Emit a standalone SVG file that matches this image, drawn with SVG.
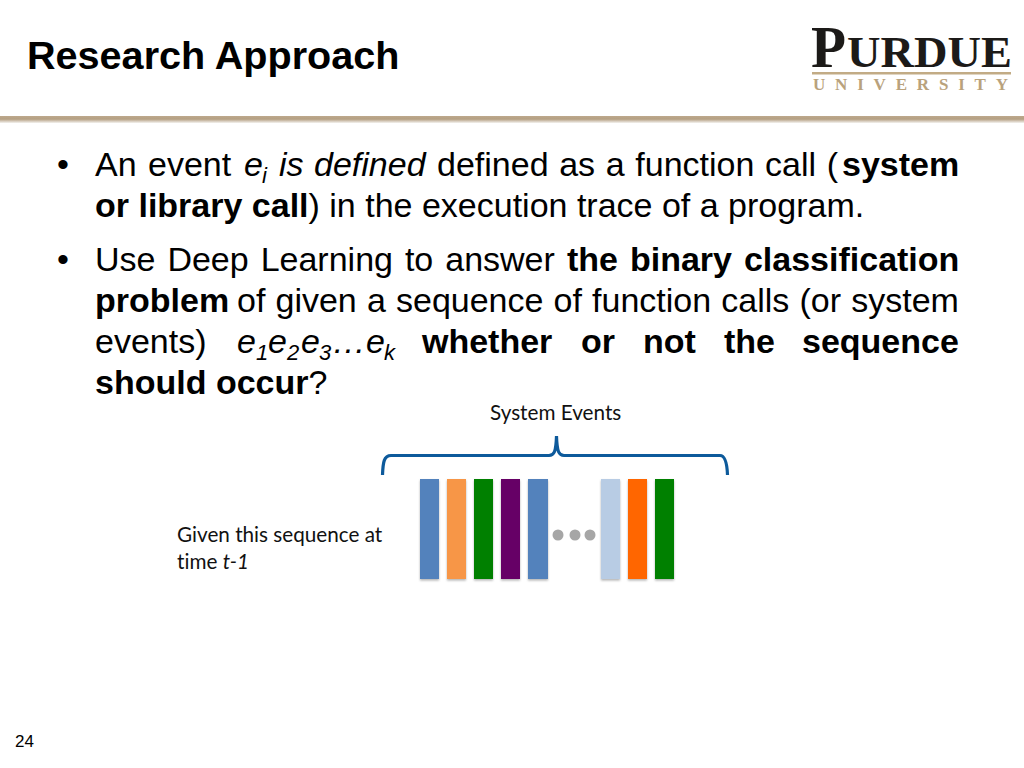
<svg xmlns="http://www.w3.org/2000/svg" width="1024" height="768" viewBox="0 0 1024 768">
<defs>
<style>
text{font-family:"Liberation Sans",Arial,sans-serif;fill:#000}
.b{font-size:34px}
.bd{font-weight:bold}
.i{font-style:italic}
.s{font-size:22px;font-style:italic}
.l{font-family:Lato,"Open Sans",sans-serif;font-size:20.700px;fill:#111;font-variant-ligatures:none}
.logo{font-family:"Liberation Serif",serif;fill:#1c1a18;font-weight:bold}
.u{font-family:"Liberation Serif",serif;font-size:17px;font-weight:bold;fill:#b9a27c}
.bar{stroke:none}
</style>
<linearGradient id="sh" x1="0" y1="0" x2="0" y2="1"><stop offset="0" stop-color="#bda88c"/><stop offset="0.45" stop-color="#b5a083"/><stop offset="1" stop-color="#f4f2ef"/></linearGradient>
<filter id="soft" x="-30%" y="-5%" width="160%" height="112%"><feDropShadow dx="0" dy="1.500" stdDeviation="1.200" flood-color="#000" flood-opacity="0.300"/></filter>
<filter id="blur" x="-30%" y="-30%" width="160%" height="160%"><feGaussianBlur stdDeviation="0.600"/></filter>
</defs>
<rect width="1024" height="768" fill="#fff"/>
<rect x="0" y="116" width="1024" height="7" fill="url(#sh)"/>
<text id="title" x="27" y="69" font-size="39.600" font-weight="bold" fill="#111">Research Approach</text>
<g id="logo">
<text class="logo" x="811" y="67" font-size="59" textLength="35" lengthAdjust="spacingAndGlyphs">P</text>
<text class="logo" x="847" y="67" font-size="45" textLength="165" lengthAdjust="spacingAndGlyphs">URDUE</text>
<rect x="812" y="72" width="199" height="2.500" fill="#c2ab85"/>
<text class="u" x="813" y="90" textLength="195">UNIVERSITY</text>
</g>
<g id="body">
<text class="b" x="57" y="176">•</text>
<text class="b" x="95" y="176" word-spacing="2">An event</text>
<text class="b i" x="244" y="176">e</text><text class="s" x="262" y="183">i</text>
<text class="b i" x="279" y="176" word-spacing="1">is defined</text>
<text class="b" x="437" y="176" word-spacing="1.200">defined as a function call (</text>
<text class="b bd" x="842" y="176">system</text>
<text class="b" x="95" y="217"><tspan class="bd">or library call</tspan>) in the execution trace of a program.</text>
<text class="b" x="57" y="271">•</text>
<text class="b" x="95" y="271" word-spacing="2.500">Use Deep Learning to answer</text>
<text class="b bd" x="567" y="271" word-spacing="2.500">the binary classification</text>
<text class="b bd" x="95" y="312">problem</text>
<text class="b" x="237" y="312" word-spacing="0.700">of given a sequence of function calls (or system</text>
<text class="b" x="95" y="353">events)</text>
<text class="b i" x="237" y="353">e</text><text class="s" x="256" y="360">1</text>
<text class="b i" x="268" y="353">e</text><text class="s" x="287" y="360">2</text>
<text class="b i" x="301" y="353">e</text><text class="s" x="319" y="360">3</text>
<text class="b i" x="332" y="353">…e</text><text class="s" x="384" y="360">k</text>
<text class="b bd" x="422" y="353">whether</text>
<text class="b bd" x="581" y="353">or</text>
<text class="b bd" x="643" y="353">not</text>
<text class="b bd" x="724" y="353">the</text>
<text class="b bd" x="802" y="353">sequence</text>
<text class="b" x="95" y="394"><tspan class="bd">should occur</tspan>?</text>
</g>
<g id="system-events-label"><text class="l" x="490" y="420">System Events</text></g>
<g id="connectors">
<path id="brace" d="M382.500 475 C383 462 384 455.500 391 455.500 L549 455.500 C554 455.500 556 452 556.500 436 C557 452 559 455.500 564 455.500 L720 455.500 C725 455.500 727 462 727.500 475" fill="none" stroke="#0d5a9b" stroke-width="3.200"/>
</g>
<g id="bars" filter="url(#soft)">
<rect id="bar1" class="bar" x="420" y="479" width="19" height="100" fill="#5282bc"/>
<rect id="bar2" class="bar" x="447" y="479" width="19" height="100" fill="#f79646"/>
<rect id="bar3" class="bar" x="474" y="479" width="19" height="100" fill="#008000"/>
<rect id="bar4" class="bar" x="501" y="479" width="19" height="100" fill="#660066"/>
<rect id="bar5" class="bar" x="528" y="479" width="20" height="100" fill="#5282bc"/>
<rect id="bar6" class="bar" x="601" y="479" width="19" height="100" fill="#b8cce4"/>
<rect id="bar7" class="bar" x="628" y="479" width="19" height="100" fill="#ff6600"/>
<rect id="bar8" class="bar" x="655" y="479" width="19" height="100" fill="#008000"/>
</g>
<g id="ellipsis" fill="#a6a6a6" filter="url(#blur)">
<circle cx="558" cy="535" r="5.500"/><circle cx="575" cy="535" r="5.500"/><circle cx="590" cy="535" r="5.500"/>
</g>
<g id="given-label">
<text class="l" x="177" y="542">Given this sequence at</text>
<text class="l" x="177" y="569">time <tspan font-style="italic">t-1</tspan></text>
</g>
<g id="page"><text x="15" y="747" font-size="17" fill="#111">24</text></g>
</svg>
